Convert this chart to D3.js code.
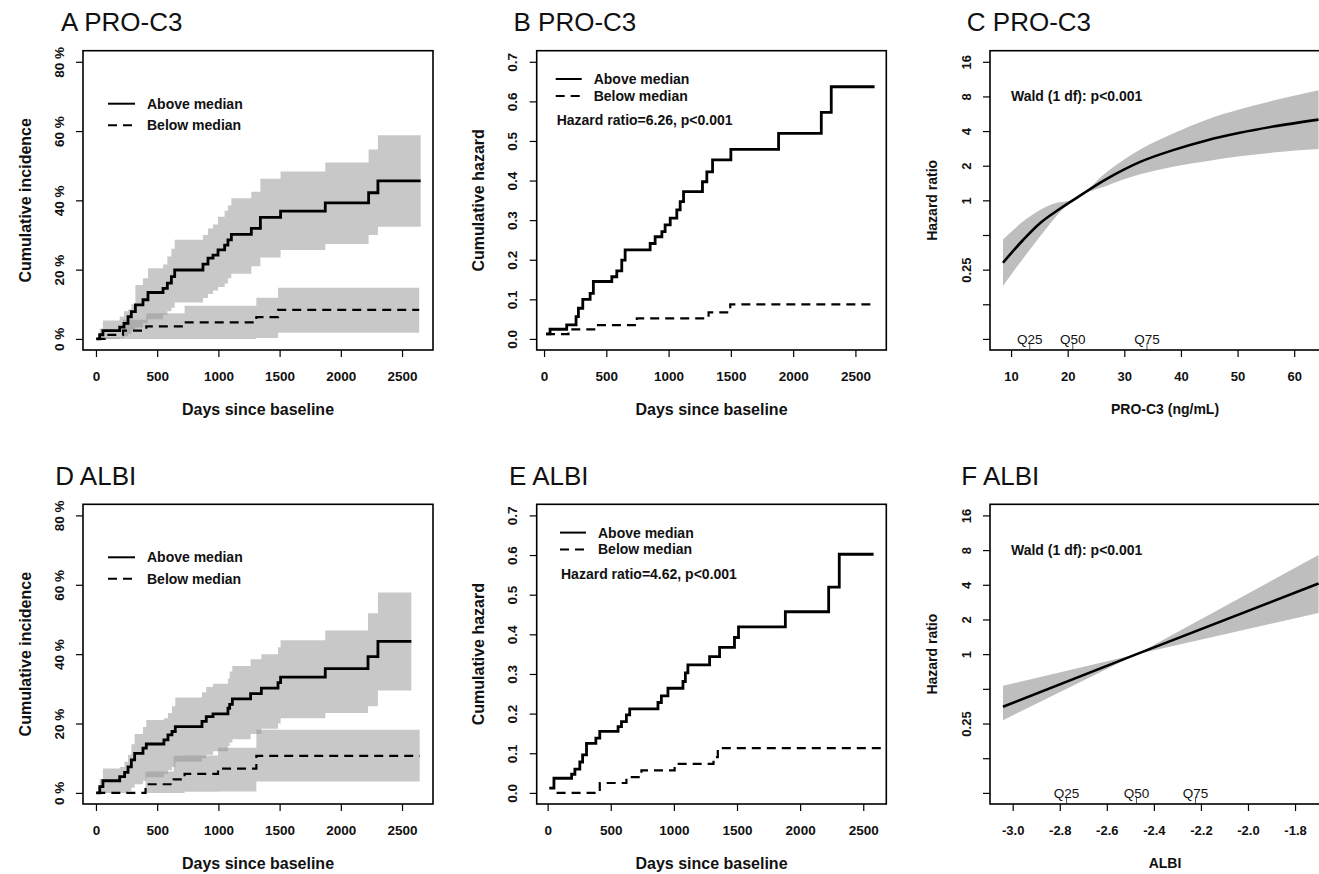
<!DOCTYPE html>
<html>
<head>
<meta charset="utf-8">
<script src="https://cdn.jsdelivr.net/npm/d3@7"></script>
<style>
  body { margin: 0; background: #fff; }
  svg { display: block; font-family: "Liberation Sans", Arial, sans-serif; }
</style>
</head>
<body>
<svg id="fig" width="1319" height="874"></svg>
<script>
// ---------- data ----------
// A: PRO-C3, cumulative incidence (%)
const aboveDaysA = [3, 30, 57, 194, 229, 262, 289, 322, 384, 425, 548, 583, 616, 643, 874, 915, 956, 997, 1051, 1078, 1106, 1269, 1343, 1508, 1873, 2227, 2303, 2652];
const aboveIncA  = [0, 1.2, 2.4, 3.4, 4.5, 6.4, 7.9, 9.8, 11.3, 13.4, 14.6, 16.1, 18.0, 19.9, 21.6, 23.3, 24.2, 25.7, 27.1, 28.6, 30.2, 31.9, 35.1, 36.9, 39.3, 42.2, 45.6, 45.6];
const aboveLoA   = [0, 0, 0, 0.3, 0.8, 1.5, 2.5, 3.3, 4.5, 5.7, 7, 8, 9, 10.5, 11.8, 13, 14, 15, 16, 17.5, 18.8, 21, 23.5, 25.7, 27.4, 30, 32.4, 32.4];
const aboveHiA   = [0, 3.0, 5.3, 6.5, 8, 8.5, 10, 15.6, 17.5, 20.4, 21.5, 23.8, 26, 28.6, 30, 31.9, 33, 35.3, 37, 38.5, 40.6, 42.5, 46.2, 48.3, 50.9, 54.7, 58.8, 58.8];
const belowDaysA = [3, 71, 221, 411, 724, 1310, 1487, 2640];
const belowIncA  = [0, 1.15, 2.4, 3.6, 4.8, 6.3, 8.4, 8.4];
const belowLoA   = [0, 0, 0, 0, 0, 0.3, 1.8, 1.8];
const belowHiA   = [0, 0.5, 5.5, 7.4, 9.6, 11.9, 14.8, 14.8];

// B: PRO-C3, cumulative hazard
const aboveDaysB = [16, 48, 182, 257, 276, 311, 370, 396, 544, 584, 624, 651, 852, 892, 946, 972, 1013, 1066, 1093, 1120, 1272, 1307, 1353, 1500, 1883, 2226, 2306, 2654];
const aboveHazB  = [0.0126, 0.0244, 0.0353, 0.0564, 0.0774, 0.100, 0.115, 0.145, 0.157, 0.172, 0.199, 0.225, 0.241, 0.258, 0.271, 0.288, 0.305, 0.326, 0.347, 0.372, 0.397, 0.422, 0.452, 0.479, 0.519, 0.572, 0.637, 0.637];
const belowDaysB = [16, 196, 423, 745, 1321, 1495, 2654];
const belowHazB  = [0.012, 0.024, 0.035, 0.052, 0.067, 0.087, 0.087];

// C: PRO-C3 (ng/mL) vs hazard ratio
const proc3X  = [8.57, 12.2, 15.1, 18.1, 20.9, 26.9, 32.8, 38.6, 44.5, 50.4, 56.3, 64.3];
const proc3Hr = [0.287, 0.457, 0.633, 0.812, 1.0, 1.537, 2.158, 2.732, 3.317, 3.864, 4.377, 5.028];
const proc3Lo = [0.180, 0.316, 0.485, 0.740, 1.0, 1.338, 1.682, 1.959, 2.188, 2.411, 2.603, 2.790];
const proc3Hi = [0.457, 0.660, 0.826, 0.953, 1.0, 1.765, 2.770, 3.811, 5.028, 6.190, 7.362, 9.063];
const proc3Q  = [13.3, 20.9, 34.0];

// D: ALBI, cumulative incidence (%)
const aboveDaysD = [3, 31, 57, 194, 234, 262, 289, 316, 384, 411, 555, 588, 621, 648, 866, 901, 956, 1078, 1092, 1114, 1263, 1351, 1487, 1508, 1873, 2222, 2303, 2576];
const aboveIncD  = [0, 1.8, 3.5, 4.7, 5.9, 7.5, 9.5, 11.4, 12.9, 14.1, 15.3, 16.7, 17.7, 19.1, 20.6, 22.0, 22.8, 24.4, 25.5, 27.1, 28.6, 30.2, 31.8, 33.4, 35.8, 39.3, 43.7, 43.7];
const aboveLoD   = [0, 0, 0, 0, 0, 0.5, 1.5, 2.5, 3.5, 4.5, 5.5, 6.5, 7.5, 9, 10, 11, 12, 13.5, 14.5, 15.5, 17, 18.5, 20, 21.5, 23, 25, 29.5, 29.5];
const aboveHiD   = [0, 4, 7, 7.5, 9, 11, 14, 17, 19, 21, 21.5, 23, 25, 27.5, 29, 30.5, 31.5, 33, 35, 36.6, 38.5, 40, 42, 44, 46.8, 51.8, 57.8, 57.8];
const belowDaysD = [3, 405, 635, 724, 997, 1310, 2644];
const belowIncD  = [0, 2.5, 3.9, 5.5, 7.0, 10.7, 10.7];
const belowLoD   = [0, 0, 0, 0.3, 0.4, 3.3, 3.3];
const belowHiD   = [0, 6.2, 10.7, 10.8, 13.0, 18.2, 18.2];

// E: ALBI, cumulative hazard
const aboveDaysE = [13, 50, 190, 216, 255, 277, 308, 382, 413, 558, 585, 624, 650, 874, 901, 953, 1072, 1091, 1111, 1283, 1362, 1480, 1512, 1883, 2226, 2310, 2582];
const aboveHazE  = [0.0118, 0.037, 0.047, 0.060, 0.078, 0.096, 0.125, 0.138, 0.155, 0.167, 0.180, 0.197, 0.212, 0.228, 0.245, 0.264, 0.281, 0.303, 0.323, 0.344, 0.367, 0.392, 0.419, 0.457, 0.519, 0.602, 0.602];
const belowDaysE = [71, 413, 624, 743, 1006, 1314, 1348, 2665];
const belowHazE  = [0, 0.025, 0.040, 0.057, 0.073, 0.090, 0.113, 0.113];

// F: ALBI vs hazard ratio
const albiX  = [-3.0414, -2.473, -1.70];
const albiHr = [0.349, 1, 4.11];
const albiLo = [0.267, 1, 2.28];
const albiHi = [0.531, 1, 7.24];
const albiQ  = [-2.771, -2.474, -2.223];

const quartileLabels = ["Q25", "Q50", "Q75"];
const dayTicks = [0, 500, 1000, 1500, 2000, 2500];
const pctTicks = [0, 20, 40, 60, 80];
const hazTicks = [0, 0.1, 0.2, 0.3, 0.4, 0.5, 0.6, 0.7];
const hrTicks = [0.0625, 0.125, 0.25, 0.5, 1, 2, 4, 8, 16];
const hrLabelled = [0.25, 1, 2, 4, 8, 16];
const proc3Ticks = [10, 20, 30, 40, 50, 60];
const albiTicks = [-3.0, -2.8, -2.6, -2.4, -2.2, -2.0, -1.8];

// ---------- helpers ----------
const svg = d3.select("#fig");
svg.append("rect").attr("width", 1319).attr("height", 874).attr("fill", "#fff");

const pad = (d, f = 0.04) => { const r = d[1] - d[0]; return [d[0] - r * f, d[1] + r * f]; };
const padLog = d => pad(d.map(Math.log2)).map(v => Math.pow(2, v));

function frame(g, b) {
    g.append("rect")
        .attr("x", b.x0).attr("y", b.y0)
        .attr("width", b.x1 - b.x0).attr("height", b.y1 - b.y0)
        .attr("fill", "none").attr("stroke", "#000").attr("stroke-width", 1.6);
}

function xAxis(g, b, x, ticks, fmt, size) {
    const ax = g.append("g")
        .attr("transform", `translate(0,${b.y1})`)
        .call(d3.axisBottom(x).tickValues(ticks).tickFormat(fmt).tickSize(7).tickSizeOuter(0));
    ax.attr("font-family", null).attr("font-size", null);
    ax.select(".domain").remove();
    ax.selectAll("line").attr("stroke", "#000").attr("stroke-width", 1.2);
    ax.selectAll("text")
        .attr("y", 26.5).attr("dy", "0.35em")
        .attr("font-size", size).attr("font-weight", "bold").attr("fill", "#111");
}

function yAxis(g, b, y, ticks, fmt, size) {
    const ax = g.append("g")
        .attr("transform", `translate(${b.x0},0)`)
        .call(d3.axisLeft(y).tickValues(ticks).tickFormat(fmt).tickSize(7).tickSizeOuter(0));
    ax.attr("font-family", null).attr("font-size", null);
    ax.select(".domain").remove();
    ax.selectAll("line").attr("stroke", "#000").attr("stroke-width", 1.2);
    ax.selectAll("text")
        .attr("x", 0).attr("y", -24).attr("dy", "0.35em")
        .attr("transform", "rotate(-90)")
        .attr("text-anchor", "middle")
        .attr("font-size", size).attr("font-weight", "bold").attr("fill", "#111");
}

function titles(g, b, xt, yt, size) {
    g.append("text")
        .attr("x", (b.x0 + b.x1) / 2).attr("y", b.y1 + 59).attr("dy", "0.35em")
        .attr("text-anchor", "middle").attr("font-size", size).attr("font-weight", "bold")
        .attr("fill", "#111").text(xt);
    g.append("text")
        .attr("transform", `translate(${b.x0 - 58},${(b.y0 + b.y1) / 2}) rotate(-90)`)
        .attr("dy", "0.35em")
        .attr("text-anchor", "middle").attr("font-size", size).attr("font-weight", "bold")
        .attr("fill", "#111").text(yt);
}

function panelTitle(g, x, y, t) {
    g.append("text").attr("x", x).attr("y", y)
        .attr("font-size", 26).attr("fill", "#111").text(t);
}

function steps(g, x, y, days, vals, dashed) {
    const line = d3.line().x(d => x(d[0])).y(d => y(d[1])).curve(d3.curveStepAfter);
    g.append("path").datum(d3.zip(days, vals))
        .attr("d", line)
        .attr("fill", "none").attr("stroke", "#000")
        .attr("stroke-width", dashed ? 2.2 : 2.8)
        .attr("stroke-dasharray", dashed ? "9,6" : null);
}

function stepBand(g, x, y, days, lo, hi) {
    const area = d3.area()
        .x(d => x(d[0])).y0(d => y(d[1])).y1(d => y(d[2]))
        .curve(d3.curveStepAfter);
    g.append("path").datum(d3.zip(days, lo, hi))
        .attr("d", area).attr("fill", "#919191").attr("fill-opacity", 0.5);
}

function legend(g, lx0, lx1, tx, ys) {
    [["Above median", null], ["Below median", "9,6"]].forEach(([lab, dash], i) => {
        g.append("line")
            .attr("x1", lx0).attr("x2", lx1).attr("y1", ys[i]).attr("y2", ys[i])
            .attr("stroke", "#000").attr("stroke-width", 2).attr("stroke-dasharray", dash);
        g.append("text").attr("x", tx).attr("y", ys[i]).attr("dy", "0.35em")
            .attr("font-size", 14).attr("font-weight", "bold").attr("fill", "#111").text(lab);
    });
}

function note(g, x, y, t) {
    g.append("text").attr("x", x).attr("y", y).attr("dy", "0.35em")
        .attr("font-size", 14).attr("font-weight", "bold").attr("fill", "#111").text(t);
}

function rug(g, b, x, qs) {
    qs.forEach((q, i) => {
        g.append("line")
            .attr("x1", x(q)).attr("x2", x(q)).attr("y1", b.y1).attr("y2", b.y1 - 7)
            .attr("stroke", "#555").attr("stroke-width", 1);
        g.append("text")
            .attr("x", x(q)).attr("y", b.y1 - 11).attr("dy", "0.35em")
            .attr("text-anchor", "middle").attr("font-size", 13.5).attr("fill", "#111")
            .text(quartileLabels[i]);
    });
}

// ---------- incidence panels (A, D) ----------
function incidencePanel(b, title, tx, data, xDom) {
    const g = svg.append("g");
    const x = d3.scaleLinear().domain(pad(xDom)).range([b.x0, b.x1]);
    const y = d3.scaleLinear().domain(pad([0, 80])).range([b.y1, b.y0]);
    stepBand(g, x, y, data.aDays, data.aLo, data.aHi);
    stepBand(g, x, y, data.bDays, data.bLo, data.bHi);
    steps(g, x, y, data.aDays, data.aEst, false);
    steps(g, x, y, data.bDays, data.bEst, true);
    frame(g, b);
    xAxis(g, b, x, dayTicks, d3.format("d"), 13.5);
    yAxis(g, b, y, pctTicks, d => d + " %", 13.5);
    titles(g, b, "Days since baseline", "Cumulative incidence", 16);
    legend(g, b.x0 + 25, b.x0 + 52, b.x0 + 64, [b.y0 + 53, b.y0 + 74.5]);
    panelTitle(g, tx, b.y0 - 19.5, title);
}

// ---------- cumulative hazard panels (B, E) ----------
function hazardPanel(b, title, tx, data, xDom, lg, hrText) {
    const g = svg.append("g");
    const x = d3.scaleLinear().domain(pad(xDom)).range([b.x0, b.x1]);
    const y = d3.scaleLinear().domain(pad([0, 0.7])).range([b.y1, b.y0]);
    steps(g, x, y, data.aDays, data.aHaz, false);
    steps(g, x, y, data.bDays, data.bHaz, true);
    frame(g, b);
    xAxis(g, b, x, dayTicks, d3.format("d"), 13.5);
    yAxis(g, b, y, hazTicks, d3.format(".1f"), 13.5);
    titles(g, b, "Days since baseline", "Cumulative hazard", 16);
    legend(g, b.x0 + lg, b.x0 + lg + 26, b.x0 + lg + 38, [b.y0 + 28.3, b.y0 + 45.2]);
    note(g, b.x0 + lg + 1, b.y0 + 69.6, hrText);
    panelTitle(g, tx, b.y0 - 19.5, title);
}

// ---------- hazard ratio panels (C, F) ----------
function hrPanel(b, title, tx, xs, hr, lo, hi, qs, xDom, xTicks, xFmt, xTitle, curve) {
    const g = svg.append("g");
    const x = d3.scaleLinear().domain(pad(xDom)).range([b.x0, b.x1]);
    const y = d3.scaleLog().base(2).domain(padLog([1 / 16, 16])).range([b.y1, b.y0]);
    const rows = d3.zip(xs, hr, lo, hi);
    g.append("path").datum(rows)
        .attr("d", d3.area().x(d => x(d[0])).y0(d => y(d[2])).y1(d => y(d[3])).curve(curve))
        .attr("fill", "#bebebe");
    g.append("path").datum(rows)
        .attr("d", d3.line().x(d => x(d[0])).y(d => y(d[1])).curve(curve))
        .attr("fill", "none").attr("stroke", "#000").attr("stroke-width", 2.6);
    rug(g, b, x, qs);
    frame(g, b);
    xAxis(g, b, x, xTicks, xFmt, 13);
    yAxis(g, b, y, hrTicks, d => hrLabelled.includes(d) ? String(d) : "", 13);
    titles(g, b, xTitle, "Hazard ratio", 14);
    note(g, b.x0 + 21, b.y0 + 45.3, "Wald (1 df): p<0.001");
    panelTitle(g, tx, b.y0 - 19.5, title);
}

const rowTop = { y0: 50.7, y1: 350 }, rowBot = { y0: 504.3, y1: 804 };
const colA = { x0: 83, x1: 433 }, colB = { x0: 536.7, x1: 886.3 }, colC = { x0: 990, x1: 1340 };

incidencePanel({ ...colA, ...rowTop }, "A PRO-C3", 61, {
    aDays: aboveDaysA, aEst: aboveIncA, aLo: aboveLoA, aHi: aboveHiA,
    bDays: belowDaysA, bEst: belowIncA, bLo: belowLoA, bHi: belowHiA
}, [0, 2647]);

incidencePanel({ ...colA, ...rowBot }, "D ALBI", 55.3, {
    aDays: aboveDaysD, aEst: aboveIncD, aLo: aboveLoD, aHi: aboveHiD,
    bDays: belowDaysD, bEst: belowIncD, bLo: belowLoD, bHi: belowHiD
}, [0, 2647]);

hazardPanel({ ...colB, ...rowTop }, "B PRO-C3", 513.5, {
    aDays: aboveDaysB, aHaz: aboveHazB, bDays: belowDaysB, bHaz: belowHazB
}, [45, 2644], 19, "Hazard ratio=6.26, p<0.001");

hazardPanel({ ...colB, ...rowBot }, "E ALBI", 509, {
    aDays: aboveDaysE, aHaz: aboveHazE, bDays: belowDaysE, bHaz: belowHazE
}, [16, 2580], 23.3, "Hazard ratio=4.62, p<0.001");

hrPanel({ ...colC, ...rowTop }, "C PRO-C3", 966.8, proc3X, proc3Hr, proc3Lo, proc3Hi, proc3Q,
    [8.57, 65.8], proc3Ticks, d3.format("d"), "PRO-C3 (ng/mL)", d3.curveMonotoneX);

hrPanel({ ...colC, ...rowBot }, "F ALBI", 961.3, albiX, albiHr, albiLo, albiHi, albiQ,
    [-3.0414, -1.664], albiTicks, d => d.toFixed(1), "ALBI", d3.curveLinear);
</script>
</body>
</html>
